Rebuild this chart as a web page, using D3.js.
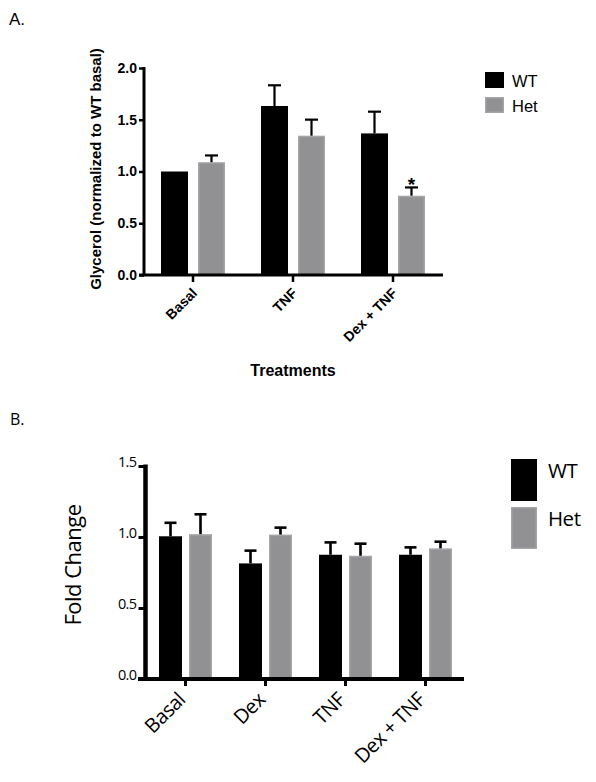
<!DOCTYPE html>
<html><head><meta charset="utf-8">
<script src="https://cdn.jsdelivr.net/npm/d3@7"></script>
<style>body{margin:0;background:#fff}svg{display:block}</style>
</head><body>
<script>
// Panel A data
const catsA = ["Basal", "TNF", "Dex + TNF"];
const seriesNames = ["WT", "Het"];
const wtA = [1.0, 1.633, 1.368];
const wtAErr = [0, 0.2, 0.21];
const hetA = [1.09, 1.346, 0.766];
const hetAErr = [0.065, 0.155, 0.08];
const ticksA = [0.0, 0.5, 1.0, 1.5, 2.0];
// Panel B data
const catsB = ["Basal", "Dex", "TNF", "Dex + TNF"];
const wtB = [1.005, 0.814, 0.875, 0.875];
const wtBErr = [0.095, 0.09, 0.087, 0.052];
const hetB = [1.02, 1.017, 0.868, 0.92];
const hetBErr = [0.14, 0.049, 0.085, 0.047];
const ticksB = [0.0, 0.5, 1.0, 1.5];

const colors = {WT: "#000000", Het: "#919194"};
const edges = {WT: "#000000", Het: "#a5a5a8"};

const svg = d3.select("body").append("svg").attr("width", 596).attr("height", 782);

function bars(grp, x1, y) {
  grp.selectAll("rect").data(d => d.vals).join("rect")
    .attr("x", d => x1(d.s) + 0.75).attr("width", x1.bandwidth() - 1.5)
    .attr("y", d => y(d.v) + 0.75).attr("height", d => y(0) - y(d.v) - 0.75)
    .attr("fill", d => colors[d.s]).attr("stroke", d => edges[d.s]).attr("stroke-width", 1.5);
}

// ---------- Panel A ----------
{
  const g = svg.append("g");
  const font = "'Liberation Sans', Arial, sans-serif";
  g.append("text").attr("x", 9).attr("y", 25).attr("font-family", font).attr("font-size", 17).text("A.");
  const y = d3.scaleLinear().domain([0, 2]).range([275, 68]);
  const x0 = d3.scaleBand().domain(catsA).range([143, 443]).paddingInner(0.36).paddingOuter(0.18);
  const x1 = d3.scaleBand().domain(seriesNames).range([0, x0.bandwidth()]).paddingInner(10/37);
  const data = catsA.map((c, i) => ({cat: c, vals: [
    {s: "WT", v: wtA[i], e: wtAErr[i]}, {s: "Het", v: hetA[i], e: hetAErr[i]}]}));
  const grp = g.selectAll(".ga").data(data).join("g").attr("transform", d => `translate(${x0(d.cat)},0)`);
  bars(grp, x1, y);
  const eb = grp.selectAll(".eb").data(d => d.vals.filter(v => v.e > 0)).join("g");
  eb.append("line").attr("x1", d => x1(d.s) + x1.bandwidth()/2).attr("x2", d => x1(d.s) + x1.bandwidth()/2)
    .attr("y1", d => y(d.v)).attr("y2", d => y(d.v + d.e)).attr("stroke", "#000").attr("stroke-width", 2.2);
  eb.append("line").attr("x1", d => x1(d.s) + x1.bandwidth()/2 - 6.5).attr("x2", d => x1(d.s) + x1.bandwidth()/2 + 6.5)
    .attr("y1", d => y(d.v + d.e)).attr("y2", d => y(d.v + d.e)).attr("stroke", "#000").attr("stroke-width", 2.2);
  // asterisk
  g.append("text").attr("x", x0("Dex + TNF") + x1("Het") + x1.bandwidth()/2).attr("y", y(hetA[2] + hetAErr[2]) + 4)
    .attr("text-anchor", "middle").attr("font-family", font).attr("font-size", 19).attr("font-weight", "bold").text("*");
  // y axis
  const ya = g.append("g").attr("transform", "translate(144,0)")
    .call(d3.axisLeft(y).tickValues(ticksA).tickFormat(d3.format(".1f")).tickSize(5).tickPadding(2));
  ya.select(".domain").attr("stroke-width", 3).attr("d", `M0,${y(2) - 1}V${y(0)}`);
  ya.selectAll(".tick line").attr("stroke-width", 2.5);
  ya.selectAll("text").attr("font-family", font).attr("font-size", 14).attr("font-weight", "bold").attr("fill", "#000");
  // x axis
  const xa = g.append("g").attr("transform", `translate(0,${y(0)})`)
    .call(d3.axisBottom(x0).tickSize(7).tickPadding(4));
  xa.select(".domain").attr("stroke-width", 3).attr("d", `M139,0H443`);
  xa.selectAll(".tick line").attr("stroke-width", 2.5);
  xa.selectAll("text").attr("font-family", font).attr("font-size", 14).attr("font-weight", "bold").attr("fill", "#000")
    .attr("text-anchor", "end").attr("x", 0).attr("y", 0).attr("dy", 0).attr("transform", "translate(5,19) rotate(-45)");
  g.append("text").attr("transform", "translate(101,169) rotate(-90)").attr("text-anchor", "middle")
    .attr("font-family", font).attr("font-size", 15).attr("font-weight", "bold").text("Glycerol (normalized to WT basal)");
  g.append("text").attr("x", 293).attr("y", 376).attr("text-anchor", "middle")
    .attr("font-family", font).attr("font-size", 16).attr("font-weight", "bold").text("Treatments");
  // legend
  const lg = g.selectAll(".lga").data(seriesNames).join("g").attr("transform", (d, i) => `translate(485,${72 + i*25})`);
  lg.append("rect").attr("x", 0.75).attr("y", 0.75).attr("width", 17.5).attr("height", 14.5)
    .attr("fill", d => colors[d]).attr("stroke", d => edges[d]).attr("stroke-width", 1.5);
  lg.append("text").attr("x", 27).attr("y", 14.5).attr("font-family", font).attr("font-size", 16.5).text(d => d);
}

// ---------- Panel B ----------
{
  const g = svg.append("g");
  const font = "'Open Sans', sans-serif";
  g.append("text").attr("x", 10).attr("y", 425).attr("font-family", font).attr("font-size", 16).text("B.");
  const y = d3.scaleLinear().domain([0, 1.5]).range([679, 466]);
  const x0 = d3.scaleBand().domain(catsB).range([143, 468]).paddingInner(0.3375).paddingOuter(0.2);
  const x1 = d3.scaleBand().domain(seriesNames).range([0, x0.bandwidth()]).paddingInner(7/30);
  const data = catsB.map((c, i) => ({cat: c, vals: [
    {s: "WT", v: wtB[i], e: wtBErr[i]}, {s: "Het", v: hetB[i], e: hetBErr[i]}]}));
  const grp = g.selectAll(".gb").data(data).join("g").attr("transform", d => `translate(${x0(d.cat)},0)`);
  bars(grp, x1, y);
  const eb = grp.selectAll(".eb").data(d => d.vals).join("g");
  eb.append("line").attr("x1", d => x1(d.s) + x1.bandwidth()/2).attr("x2", d => x1(d.s) + x1.bandwidth()/2)
    .attr("y1", d => y(d.v)).attr("y2", d => y(d.v + d.e)).attr("stroke", "#000").attr("stroke-width", 2.6);
  eb.append("line").attr("x1", d => x1(d.s) + x1.bandwidth()/2 - 6).attr("x2", d => x1(d.s) + x1.bandwidth()/2 + 6)
    .attr("y1", d => y(d.v + d.e)).attr("y2", d => y(d.v + d.e)).attr("stroke", "#000").attr("stroke-width", 2.6);
  const ya = g.append("g").attr("transform", "translate(145.5,0)")
    .call(d3.axisLeft(y).tickValues(ticksB).tickFormat(d3.format(".1f")).tickSize(7).tickPadding(2));
  ya.select(".domain").attr("stroke-width", 4.5).attr("d", `M0,${y(1.5) - 1.5}V${y(0)}`);
  ya.selectAll(".tick line").attr("stroke-width", 3);
  ya.selectAll("text").attr("font-family", font).attr("font-size", 14.5).attr("fill", "#000").attr("dy", "0")
    .attr("letter-spacing", "-0.6");
  const xa = g.append("g").attr("transform", `translate(0,${y(0)})`)
    .call(d3.axisBottom(x0).tickSize(7).tickPadding(4));
  xa.select(".domain").attr("stroke-width", 4).attr("d", `M138,0H464`);
  xa.selectAll(".tick line").attr("stroke-width", 3);
  xa.selectAll("text").attr("font-family", font).attr("font-size", 20).attr("fill", "#000")
    .attr("text-anchor", "end").attr("x", 0).attr("y", 0).attr("dy", 0).attr("letter-spacing", "-0.5")
    .attr("transform", "translate(1,22) rotate(-45)");
  g.append("text").attr("transform", "translate(81,565) rotate(-90)").attr("text-anchor", "middle")
    .attr("font-family", font).attr("font-size", 22).attr("letter-spacing", "-0.5").text("Fold Change");
  const lg = g.selectAll(".lgb").data(seriesNames).join("g").attr("transform", (d, i) => `translate(511,${459 + i*48})`);
  lg.append("rect").attr("x", 0.75).attr("y", 0.75).attr("width", 24.5).attr("height", 40.5)
    .attr("fill", d => colors[d]).attr("stroke", d => edges[d]).attr("stroke-width", 1.5);
  lg.append("text").attr("x", 37).attr("y", 19).attr("font-family", font).attr("font-size", 20.5).attr("letter-spacing", "-0.5").text(d => d);
}
</script>
</body></html>
